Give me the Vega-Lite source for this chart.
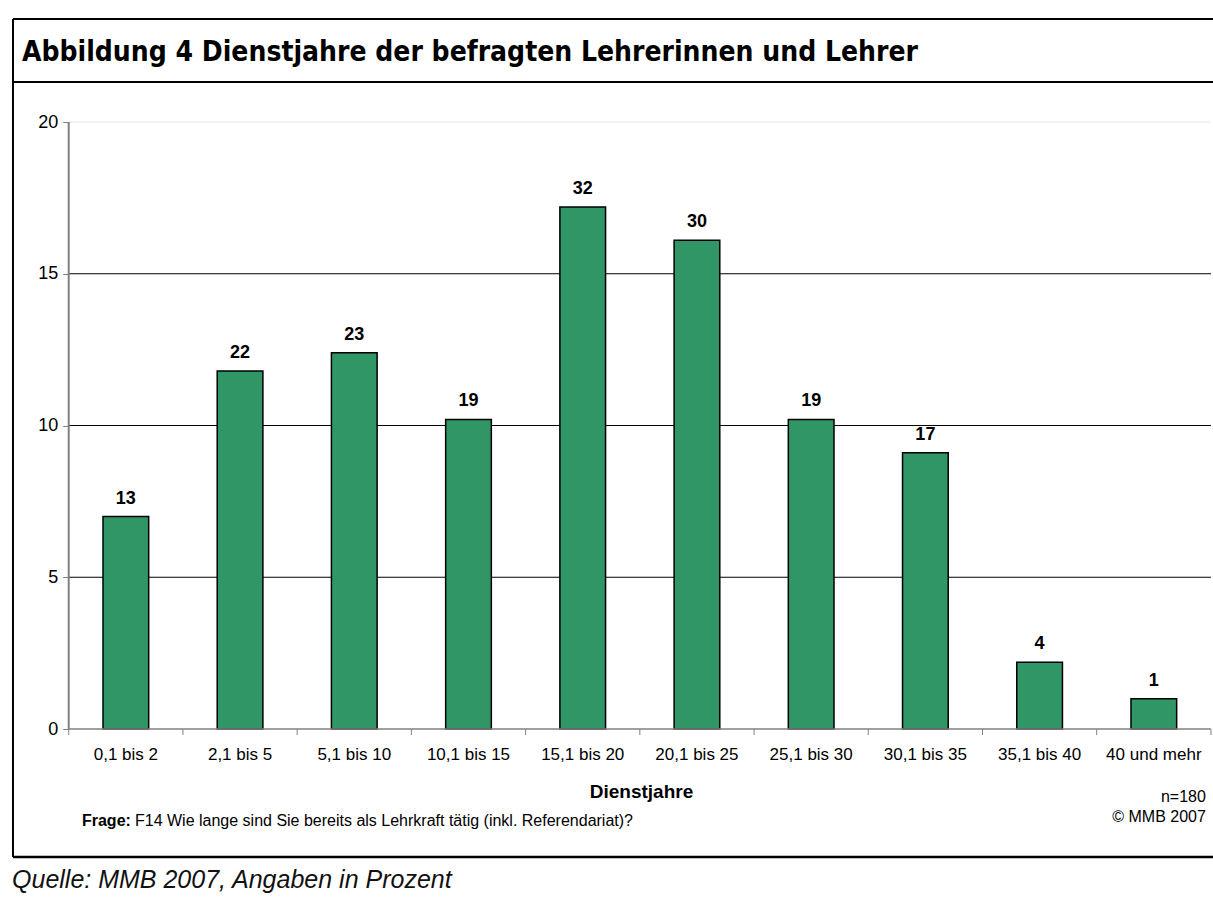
{
  "$schema": "https://vega.github.io/schema/vega-lite/v6.json",
  "padding": {"left": 11, "top": 11, "right": 0, "bottom": 0},
  "bounds": "flush",
  "spacing": 0,
  "config": {"view": {"stroke": null}, "font": "Liberation Sans", "background": "white"},
  "vconcat": [
    {
      "width": 1202,
      "height": 71,
      "layer": [
        {
          "data": {"values": [{"t": "Abbildung 4 Dienstjahre der befragten Lehrerinnen und Lehrer"}]},
          "mark": {"type": "text", "align": "left", "baseline": "alphabetic", "font": "DejaVu Sans Condensed, Liberation Sans", "fontWeight": "bold", "fontSize": 28, "color": "black"},
          "encoding": {
            "text": {"field": "t"},
            "x": {"datum": 0.75, "type": "quantitative", "scale": {"domain": [0, 100]}, "axis": null},
            "y": {"datum": 24, "type": "quantitative", "scale": {"domain": [0, 71]}, "axis": null}
          }
        },
        {
          "data": {"values": [{"x1": 0, "x2": 100, "y1": 71, "y2": 71}, {"x1": 0, "x2": 100, "y1": 0, "y2": 0}, {"x1": 0, "x2": 0, "y1": 0, "y2": 71}]},
          "mark": {"type": "rule", "color": "black", "strokeWidth": 2},
          "encoding": {
            "x": {"field": "x1", "type": "quantitative"},
            "x2": {"field": "x2"},
            "y": {"field": "y1", "type": "quantitative"},
            "y2": {"field": "y2"}
          }
        }
      ]
    },
    {
      "width": 1202,
      "height": 775,
      "data": {"values": [
        {"k": "0,1 bis 2", "p": 7.0, "n": 13},
        {"k": "2,1 bis 5", "p": 11.8, "n": 22},
        {"k": "5,1 bis 10", "p": 12.4, "n": 23},
        {"k": "10,1 bis 15", "p": 10.2, "n": 19},
        {"k": "15,1 bis 20", "p": 17.2, "n": 32},
        {"k": "20,1 bis 25", "p": 16.1, "n": 30},
        {"k": "25,1 bis 30", "p": 10.2, "n": 19},
        {"k": "30,1 bis 35", "p": 9.1, "n": 17},
        {"k": "35,1 bis 40", "p": 2.2, "n": 4},
        {"k": "40 und mehr", "p": 1.0, "n": 1}
      ]},
      "layer": [
        {
          "data": {"values": [{"g": 5}, {"g": 10}, {"g": 15}]},
          "mark": {"type": "rule", "color": "black", "strokeWidth": 1},
          "encoding": {
            "y": {"field": "g", "type": "quantitative"},
            "x": {"datum": "0,1 bis 2", "bandPosition": -0.75},
            "x2": {"datum": "40 und mehr", "bandPosition": 1.75}
          }
        },
        {
          "data": {"values": [{"g": 20}]},
          "mark": {"type": "rule", "color": "#e6e6e6", "strokeWidth": 1},
          "encoding": {
            "y": {"field": "g", "type": "quantitative"},
            "x": {"datum": "0,1 bis 2", "bandPosition": -0.75},
            "x2": {"datum": "40 und mehr", "bandPosition": 1.75}
          }
        },
        {
          "mark": {"type": "bar", "color": "#319665", "stroke": "black", "strokeWidth": 1.5},
          "encoding": {
            "x": {
              "field": "k", "type": "nominal", "sort": null,
              "scale": {"type": "band", "domain": ["0,1 bis 2", "2,1 bis 5", "5,1 bis 10", "10,1 bis 15", "15,1 bis 20", "20,1 bis 25", "25,1 bis 30", "30,1 bis 35", "35,1 bis 40", "40 und mehr"], "paddingInner": 0.6, "paddingOuter": 0.5617, "align": 0.7013},
              "axis": {"orient": "bottom", "offset": -128, "bandPosition": 0.5, "domain": false, "grid": false, "ticks": false, "labelAngle": 0, "labelAlign": "center", "labelFontSize": 17, "labelColor": "black", "labelPadding": 25, "title": "Dienstjahre", "titleFontSize": 19, "titleFontWeight": "bold", "titleColor": "black", "titlePadding": 20, "titleX": 628}
            },
            "y": {
              "field": "p", "type": "quantitative",
              "scale": {"domain": [-4.217, 21.318], "nice": false, "zero": false},
              "axis": {"orient": "left", "offset": -55.7, "values": [0, 5, 10, 15, 20], "domain": false, "grid": false, "tickColor": "#808080", "tickSize": 6, "tickWidth": 1, "labelFontSize": 18, "labelColor": "black", "labelPadding": 5, "title": null}
            },
            "y2": {"datum": 0}
          }
        },
        {
          "mark": {"type": "text", "baseline": "alphabetic", "dy": -13, "fontSize": 18, "fontWeight": "bold", "color": "black"},
          "encoding": {
            "x": {"field": "k", "type": "nominal", "sort": null},
            "y": {"field": "p", "type": "quantitative"},
            "text": {"field": "n", "type": "quantitative"}
          }
        },
        {
          "mark": {"type": "rule", "color": "#808080", "strokeWidth": 1},
          "encoding": {
            "x": {"field": "k", "type": "nominal", "sort": null, "bandPosition": -0.75},
            "y": {"datum": 0},
            "y2": {"datum": -0.198}
          }
        },
        {
          "data": {"values": [{"a": 0, "b": -0.198}]},
          "mark": {"type": "rule", "color": "#808080", "strokeWidth": 1},
          "encoding": {
            "x": {"datum": "40 und mehr", "bandPosition": 1.75},
            "y": {"field": "a", "type": "quantitative"},
            "y2": {"field": "b"}
          }
        },
        {
          "data": {"values": [{"a": 0, "b": 20}]},
          "mark": {"type": "rule", "color": "#808080", "strokeWidth": 2},
          "encoding": {
            "x": {"datum": "0,1 bis 2", "bandPosition": -0.75},
            "y": {"field": "a", "type": "quantitative"},
            "y2": {"field": "b"}
          }
        },
        {
          "data": {"values": [{"a": 0}]},
          "mark": {"type": "rule", "color": "#808080", "strokeWidth": 1.5},
          "encoding": {
            "y": {"field": "a", "type": "quantitative"},
            "x": {"datum": "0,1 bis 2", "bandPosition": -0.75},
            "x2": {"datum": "40 und mehr", "bandPosition": 1.75}
          }
        },
        {
          "data": {"values": [{"a": 21.318, "b": -4.217}]},
          "mark": {"type": "rule", "color": "black", "strokeWidth": 2},
          "encoding": {
            "x": {"datum": "0,1 bis 2", "bandPosition": -1.97},
            "y": {"field": "a", "type": "quantitative"},
            "y2": {"field": "b"}
          }
        },
        {
          "data": {"values": [{"a": -4.217}]},
          "mark": {"type": "rule", "color": "black", "strokeWidth": 2.5},
          "encoding": {
            "y": {"field": "a", "type": "quantitative"},
            "x": {"datum": "0,1 bis 2", "bandPosition": -1.97},
            "x2": {"datum": "40 und mehr", "bandPosition": 1.839}
          }
        },
        {
          "data": {"values": [{"t": "Frage:", "v": -3.031}]},
          "mark": {"type": "text", "align": "left", "baseline": "middle", "fontSize": 16, "fontWeight": "bold", "color": "black"},
          "encoding": {
            "x": {"datum": "0,1 bis 2", "bandPosition": -0.46},
            "y": {"field": "v", "type": "quantitative"},
            "text": {"field": "t"}
          }
        },
        {
          "data": {"values": [{"t": "F14 Wie lange sind Sie bereits als Lehrkraft tätig (inkl. Referendariat)?", "v": -3.031}]},
          "mark": {"type": "text", "align": "left", "baseline": "middle", "fontSize": 16, "color": "black"},
          "encoding": {
            "x": {"datum": "0,1 bis 2", "bandPosition": 0.70},
            "y": {"field": "v", "type": "quantitative"},
            "text": {"field": "t"}
          }
        },
        {
          "data": {"values": [{"t": "n=180", "v": -2.24}, {"t": "© MMB 2007", "v": -2.9}]},
          "mark": {"type": "text", "align": "right", "baseline": "middle", "fontSize": 16, "color": "black"},
          "encoding": {
            "x": {"datum": "40 und mehr", "bandPosition": 1.64},
            "y": {"field": "v", "type": "quantitative"},
            "text": {"field": "t"}
          }
        }
      ]
    },
    {
      "width": 1202,
      "height": 40,
      "data": {"values": [{"t": "Quelle: MMB 2007, Angaben in Prozent"}]},
      "mark": {"type": "text", "align": "left", "baseline": "middle", "fontSize": 25, "fontStyle": "italic", "color": "#111"},
      "encoding": {
        "text": {"field": "t"},
        "x": {"datum": -0.08, "type": "quantitative", "scale": {"domain": [0, 100]}, "axis": null},
        "y": {"datum": 17, "type": "quantitative", "scale": {"domain": [0, 40]}, "axis": null}
      }
    }
  ]
}
